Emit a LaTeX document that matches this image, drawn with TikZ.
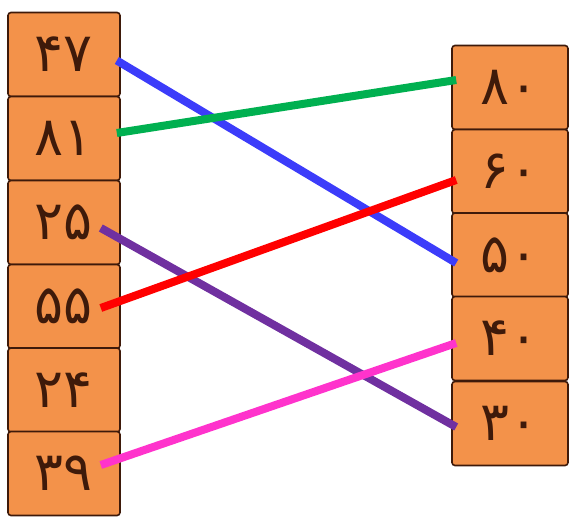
\documentclass[tikz,border=0pt]{standalone}
\usepackage{fontspec}
\newfontfamily\numfont{DejaVu Sans}
\definecolor{tileOrange}{RGB}{243,146,74}
\definecolor{tileBrown}{RGB}{62,26,10}
\definecolor{lineBlue}{RGB}{60,60,250}
\definecolor{lineGreen}{RGB}{0,176,80}
\definecolor{lineRed}{RGB}{255,0,0}
\definecolor{linePurple}{RGB}{112,48,160}
\definecolor{linePink}{RGB}{255,51,204}

\begin{document}
\begin{tikzpicture}
[x=1pt,y=-1pt,
  tileDecorate/.style={shape=rectangle,draw=tileBrown,line width=1.6pt,fill=tileOrange,
    rounded corners=3pt,inner sep=0pt,minimum height=84pt,
    font=\numfont\fontsize{54}{58}\selectfont,text=tileBrown},
  leftTile/.style={tileDecorate,minimum width=112pt},
  rightTile/.style={tileDecorate,minimum width=116pt},
  lineDecorate/.style={-,line width=8pt}]
\useasboundingbox (0,0) rectangle (571,519);
%% left column
\foreach \nodename/\y/\txt in {
  L1/54.5/۴۷,
  L2/138.5/۸۱,
  L3/222.5/۲۵,
  L4/306.5/۵۵,
  L5/390/۲۴,
  L6/473.5/۳۹}
{
  \node (\nodename) at (64,\y) [leftTile] {\txt};
}
%% right column
\foreach \nodename/\y/\txt in {
  R1/87.5/۸۰,
  R2/171.5/۶۰,
  R3/255/۵۰,
  R4/338.5/۴۰,
  R5/423.5/۳۰}
{
  \node (\nodename) at (510,\y) [rightTile] {\txt};
}
%% matching lines (shifts in pt, upwards positive)
\foreach \startnode/\sx/\sy/\endnode/\ey/\col in {
  L1/-4/-6/R3/-8/lineBlue,
  L2/-4/5.5/R1/7.5/lineGreen,
  L3/-20/-5.5/R5/-3.5/linePurple,
  L4/-20/-1.5/R2/-8.5/lineRed,
  L6/-20/8.5/R4/-4.5/linePink}
{
  \draw[lineDecorate,draw=\col] ([xshift=\sx,yshift=\sy]\startnode.east)
    -- ([xshift=5,yshift=\ey]\endnode.west);
}
\end{tikzpicture}
\end{document}
